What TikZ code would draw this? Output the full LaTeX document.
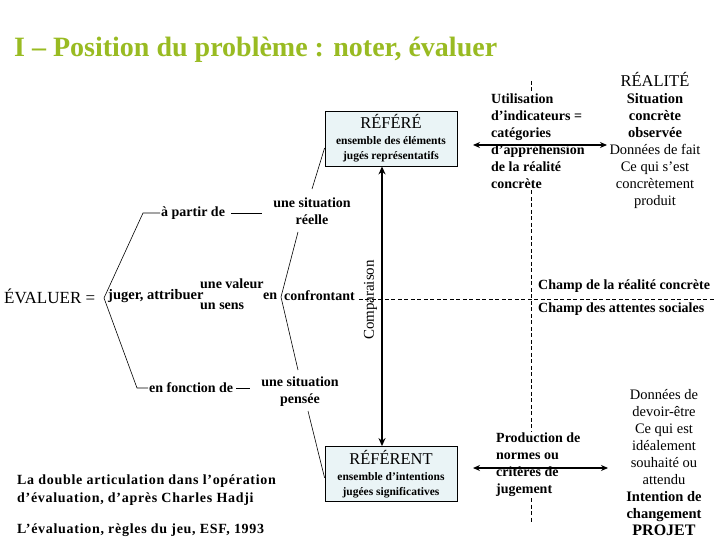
\documentclass[tikz,border=0pt]{standalone}
\usepackage{fontspec}
\setmainfont{Liberation Serif}
\usetikzlibrary{arrows.meta,calc}
\definecolor{titlegreen}{RGB}{153,187,34}
\definecolor{boxfill}{RGB}{234,244,246}
\newcommand{\capfnt}{\mdseries\fontsize{16.5}{18}\selectfont}
\begin{document}
\begin{tikzpicture}[x=1pt,y=-1pt,
  bt/.style={font=\bfseries\fontsize{14}{17}\selectfont, inner sep=1pt},
  rt/.style={font=\fontsize{14.5}{17}\selectfont, inner sep=1pt},
  thinline/.style={line width=0.6pt},
  dashline/.style={line width=0.7pt, dash pattern=on 4pt off 2.5pt},
  dblarr/.style={line width=1.6pt, {Stealth[length=7pt,width=6pt]}-{Stealth[length=7pt,width=6pt]}},
  thickarr/.style={line width=2.5pt, {Stealth[length=8pt,width=7pt]}-{Stealth[length=8pt,width=7pt]}},
  refbox/.style={draw, line width=0.8pt, fill=boxfill, minimum width=132pt, minimum height=55pt, align=center, inner sep=2pt, font=\bfseries\fontsize{11.5}{15}\selectfont}
]
\useasboundingbox (0,0) rectangle (720,540);

% title
\node[anchor=base west, font=\bfseries\fontsize{28}{32}\selectfont, text=titlegreen, inner sep=0] (title) at (14,57) {I – Position du problème : noter, évaluer};

% boxes
\node[refbox] (refere) at (391,138.5) {{\capfnt RÉFÉRÉ}\\[1pt]ensemble des éléments\\jugés représentatifs};
\node[refbox] (referent) at (391,474) {{\capfnt RÉFÉRENT}\\[1pt]ensemble d’intentions\\jugées significatives};

% comparison axis
\draw[thickarr] ([xshift=-9pt]refere.south) -- ([xshift=-9pt]referent.north);
\node[rotate=90, inner sep=1pt, font=\fontsize{15}{17}\selectfont] (comp) at (370.5,300) {Comparaison};

% left structure
\node[anchor=west, inner sep=1pt, font=\fontsize{17}{19}\selectfont] (eval) at (3,296) {ÉVALUER =};
\node[anchor=west, inner sep=1pt, font=\bfseries\fontsize{14.5}{17}\selectfont] (juger) at (107,296) {juger, attribuer};
\node[bt, anchor=west] (valeur) at (199,284) {une valeur};
\node[bt, anchor=west] (sens) at (199,306) {un sens};
\node[bt, anchor=west] (en) at (262,296) {en};
\node[bt, anchor=west] (confr) at (283,296) {confrontant};
\node[bt, anchor=west] (apartir) at (160,213) {à partir de};
\node[bt, anchor=west] (enfonction) at (148,388) {en fonction de};
\node[bt, align=center] (sreelle) at (312,211.5) {une situation\\réelle};
\node[bt, align=center] (spensee) at (300,391.5) {une situation\\pensée};

\coordinate (bt) at (143,213);
\coordinate (bv) at (104,298);
\coordinate (bb) at (137,388);
\coordinate (apend) at (262,213);
\coordinate (efend) at (250,388);
\draw[thinline] (apartir.west) -- (bt) -- (bv) -- (bb) -- (enfonction.west);
\draw[thinline] (apartir.east) ++(5,0) -- (apend);
\draw[thinline] (enfonction.east) ++(2,0) -- (efend);

\coordinate (st) at (298,232);
\coordinate (sv) at (281,297);
\coordinate (sb) at (298,370);
\draw[thinline] (st) -- (sv) -- (sb);

\coordinate (r1) at (312,189);
\draw[thinline] (r1) -- ($(refere.south west)!0.33!(refere.north west)$);
\coordinate (p1) at (308,411);
\draw[thinline] (p1) -- ($(referent.north west)!0.57!(referent.south west)$);

% dashed axes
\node[bt, anchor=north west, align=left] (util) at (490,93) {Utilisation\\d’indicateurs =\\catégories\\d’appréhension\\de la réalité\\concrète};
\node[bt, anchor=north west, align=left] (prod) at (495,432) {Production de\\normes ou\\critères de\\jugement};
\coordinate (vtop) at (531,81);
\coordinate (vbot) at (531,522);
\draw[dashline] (vtop) -- (vtop |- util.north);
\draw[dashline] (vtop |- util.south) -- (vtop |- prod.north);
\draw[dashline] (vtop |- prod.south) -- (vbot);
\coordinate (hd) at (714,299);
\draw[dashline] (hd -| confr.east) ++(3,0) -- (hd);

\node[bt, anchor=west] (champ1) at (537,286) {Champ de la réalité concrète};
\node[bt, anchor=west] (champ2) at (537,309) {Champ des attentes sociales};

% right column
\node[rt, align=center, anchor=north] (realite) at (655,71) {{\capfnt RÉALITÉ}\\\textbf{Situation}\\\textbf{concrète}\\\textbf{observée}\\Données de fait\\Ce qui s’est\\concrètement\\produit};
\node[rt, align=center, anchor=north] (projet) at (664,388) {Données de\\devoir-être\\Ce qui est\\idéalement\\souhaité ou\\attendu\\\textbf{Intention de}\\\textbf{changement}\\{\bfseries\fontsize{16}{18}\selectfont PROJET}};

% horizontal arrows
\coordinate (a1l) at (473,145);
\coordinate (a1r) at (607,145);
\coordinate (a2l) at (473,468);
\coordinate (a2r) at (608,468);
\draw[dblarr] (a1l) -- (a1r);
\draw[dblarr] (a2l) -- (a2r);

% source
\node[anchor=north west, align=left, inner sep=1pt, font=\bfseries\fontsize{14}{18}\selectfont\addfontfeature{LetterSpace=5}] (src1) at (16,474) {La double articulation dans l’opération\\d’évaluation, d’après Charles Hadji};
\node[anchor=west, inner sep=1pt, font=\bfseries\fontsize{14}{18}\selectfont\addfontfeature{LetterSpace=5}] (src2) at (16,530) {L’évaluation, règles du jeu, ESF, 1993};
\end{tikzpicture}
\end{document}
